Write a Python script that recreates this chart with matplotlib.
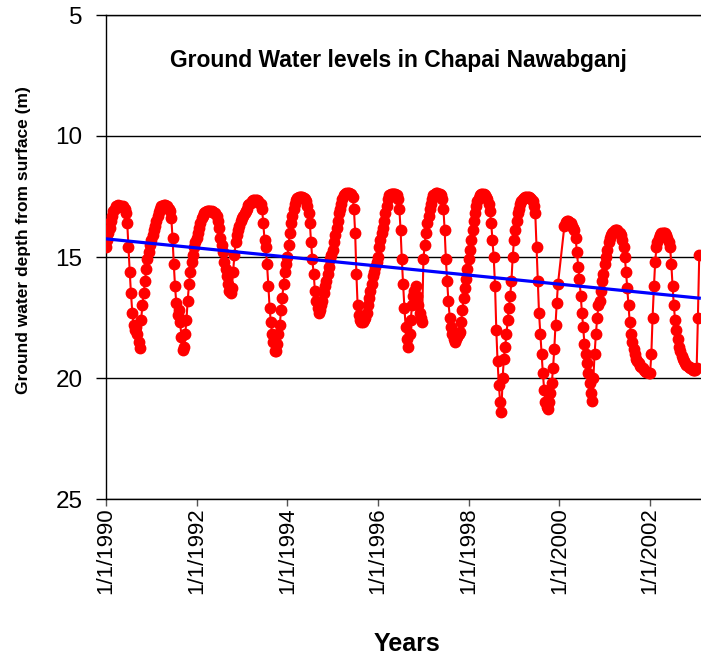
import numpy as np
import pandas as pd
import matplotlib
matplotlib.use("Agg")
import matplotlib.pyplot as plt
import matplotlib.dates as mdates
from matplotlib.ticker import FixedLocator, FixedFormatter

plt.rcParams['font.family'] = ['Liberation Sans', 'DejaVu Sans']

# ground water depth below surface (m), read on the 1st, 11th and 21st of each month
depth_1990 = [14.6, 14.3, 14.0, 13.8, 13.5, 13.3, 13.1, 13.0, 12.9, 12.9, 12.85, 12.9,
              12.9, 12.95, 12.9, 13.0, 13.2, 13.6, 14.6, 15.6, 16.5, 17.3, 17.8, 18.0,
              17.9, 18.2, 18.5, 18.75, 17.6, 17.0, 16.5, 16.0, 15.5, 15.1, 14.8, 14.5]
depth_1991 = [14.3, 14.1, 13.9, 13.7, 13.5, 13.3, 13.15, 13.0, 12.9, 12.9, 12.85, 12.85,
              12.9, 12.9, 13.0, 13.1, 13.4, 14.2, 15.3, 16.2, 16.9, 17.4, 17.2, 17.7,
              18.3, 18.85, 18.7, 18.2, 17.6, 16.8, 16.1, 15.6, 15.2, 14.9, 14.6, 14.4]
depth_1992 = [14.2, 14.0, 13.8, 13.6, 13.4, 13.3, 13.2, 13.15, 13.1, 13.1, 13.1, 13.1,
              13.1, 13.15, 13.2, 13.2, 13.3, 13.5, 13.8, 14.2, 14.5, 14.8, 15.2, 15.5,
              15.8, 16.1, 16.4, 16.5, 16.3, 15.6, 14.9, 14.4, 14.1, 13.9, 13.7, 13.5]
depth_1993 = [13.4, 13.3, 13.2, 13.1, 13.0, 12.85, 12.8, 12.75, 12.7, 12.65, 12.65, 12.65,
              12.65, 12.7, 12.75, 12.8, 13.0, 13.6, 14.3, 14.6, 15.3, 16.2, 17.1, 17.7,
              18.2, 18.5, 18.9, 18.9, 18.6, 18.2, 17.8, 17.2, 16.7, 16.1, 15.6, 15.3]
depth_1994 = [15.0, 14.5, 14.0, 13.6, 13.3, 13.0, 12.8, 12.65, 12.55, 12.5, 12.5, 12.5,
              12.5, 12.55, 12.6, 12.7, 12.9, 13.2, 13.6, 14.4, 15.1, 15.7, 16.4, 16.8,
              17.1, 17.3, 17.2, 17.0, 16.8, 16.5, 16.2, 16.0, 15.7, 15.4, 15.1, 14.9]
depth_1995 = [14.7, 14.4, 14.1, 13.8, 13.5, 13.2, 13.0, 12.8, 12.6, 12.45, 12.4, 12.35,
              12.35, 12.35, 12.4, 12.4, 12.5, 13.0, 14.0, 15.7, 17.0, 17.4, 17.6, 17.7,
              17.7, 17.6, 17.5, 17.3, 17.0, 16.7, 16.4, 16.1, 15.8, 15.6, 15.4, 15.2]
depth_1996 = [15.0, 14.6, 14.3, 14.0, 13.8, 13.5, 13.2, 12.9, 12.6, 12.45, 12.4, 12.4,
              12.4, 12.4, 12.4, 12.45, 12.6, 13.0, 13.9, 15.1, 16.1, 17.1, 17.9, 18.4,
              18.7, 18.2, 17.6, 17.0, 16.6, 16.4, 16.2, 16.6, 17.0, 17.3, 17.5, 17.7]
depth_1997 = [15.1, 14.5, 14.0, 13.6, 13.3, 13.0, 12.8, 12.6, 12.45, 12.4, 12.35, 12.35,
              12.4, 12.4, 12.45, 12.6, 13.0, 13.9, 15.1, 16.0, 16.8, 17.5, 17.9, 18.2,
              18.4, 18.5, 18.4, 18.3, 18.2, 18.1, 17.7, 17.2, 16.7, 16.3, 15.9, 15.5]
depth_1998 = [15.1, 14.7, 14.3, 13.9, 13.5, 13.2, 12.9, 12.7, 12.55, 12.45, 12.4, 12.4,
              12.4, 12.45, 12.5, 12.6, 12.8, 13.1, 13.6, 14.3, 15.0, 16.2, 18.0, 19.3,
              20.3, 21.0, 21.4, 20.0, 19.2, 18.7, 18.2, 17.6, 17.1, 16.6, 16.0, 15.0]
depth_1999 = [14.3, 13.9, 13.5, 13.2, 13.0, 12.8, 12.7, 12.6, 12.55, 12.5, 12.5, 12.5,
              12.5, 12.55, 12.6, 12.7, 12.9, 13.2, 14.6, 16.0, 17.3, 18.2, 19.0, 19.8,
              20.5, 21.0, 21.2, 21.3, 21.0, 20.6, 20.2, 19.6, 18.8, 17.8, 16.9, 16.1]
depth_2000 = [np.nan, np.nan, np.nan, np.nan, 13.7, 13.55, 13.5, 13.5, 13.55, 13.6, 13.7, 13.8,
              13.9, 14.2, 14.8, 15.4, 15.9, 16.6, 17.3, 17.9, 18.6, 19.0, 19.4, 19.8,
              20.2, 20.6, 20.95, 20.0, 19.0, 18.2, 17.5, 17.0, 16.8, 16.4, 16.0, 15.7]
depth_2001 = [15.3, 15.0, 14.7, 14.4, 14.2, 14.1, 14.0, 13.95, 13.9, 13.9, 13.9, 13.95,
              14.0, 14.1, 14.3, 14.6, 15.0, 15.6, 16.3, 17.0, 17.7, 18.2, 18.5, 18.8,
              19.0, 19.2, 19.3, 19.4, 19.5, 19.55, 19.6, 19.65, 19.7, 19.75, 19.75, 19.8]
depth_2002 = [19.8, 19.0, 17.5, 16.2, 15.2, 14.6, 14.4, 14.2, 14.1, 14.0, 14.0, 14.0,
              14.0, 14.1, 14.2, 14.4, 14.6, 15.3, 16.2, 17.0, 17.6, 18.0, 18.4, 18.7,
              18.9, 19.1, 19.2, 19.3, 19.4, 19.45, 19.5, 19.55, 19.6, 19.6, 19.65, 19.65]
depth_2003 = [19.65, 19.6, 17.5, 14.9]

# linear trend of depth, at the first and last reading
trend_depth = [14.25, 16.7]

tick_years = [1990, 1992, 1994, 1996, 1998, 2000, 2002]
y_ticks = [5, 10, 15, 20, 25]

depth = np.array(depth_1990 + depth_1991 + depth_1992 + depth_1993 + depth_1994
                 + depth_1995 + depth_1996 + depth_1997 + depth_1998 + depth_1999
                 + depth_2000 + depth_2001 + depth_2002 + depth_2003, dtype=float)

months = pd.date_range("1990-01-01", "2003-12-01", freq="MS")
dates = pd.DatetimeIndex([m + pd.Timedelta(days=d) for m in months for d in (0, 10, 20)])
dates = dates[:len(depth)]

ok = ~np.isnan(depth)
dates, depth = dates[ok], depth[ok]

fig = plt.figure(figsize=(7.01, 6.55), dpi=100)
ax = fig.add_axes([106 / 701, 156 / 655, 595 / 701, 484 / 655])

ax.plot(dates, depth, color="#ff0000", lw=1.5, marker="o", ms=7.5,
        markeredgecolor="#ff0000", zorder=3)
ax.plot([dates[0], dates[-1]], trend_depth, color="#0000ff", lw=2.3, zorder=4)

ax.set_ylim(25, 5)
ax.set_xlim(pd.Timestamp("1990-01-01"), pd.Timestamp("2003-02-15"))

ax.yaxis.set_major_locator(FixedLocator(y_ticks))
ax.tick_params(axis="y", labelsize=17.5, length=7, width=1, direction="out", pad=10)

tick_dates = [pd.Timestamp(f"{y}-01-01") for y in tick_years]
ax.xaxis.set_major_locator(FixedLocator(mdates.date2num(tick_dates)))
ax.xaxis.set_major_formatter(FixedFormatter([f"{d.month}/{d.day}/{d.year}" for d in tick_dates]))
ax.tick_params(axis="x", labelsize=16, length=5, width=1, direction="out",
               labelrotation=90, pad=1, color="#555555")

ax.yaxis.grid(True, color="black", lw=1)
ax.set_axisbelow(True)
ax.spines["right"].set_visible(False)
for s in ("left", "bottom", "top"):
    ax.spines[s].set_color("black")
    ax.spines[s].set_linewidth(1)

fig.text(398 / 701, 1 - 60 / 655, "Ground Water levels in Chapai Nawabganj",
         ha="center", va="center", fontsize=16.5, fontweight="bold")
fig.text(24 / 701, 1 - 240 / 655, "Ground water depth from surface (m)",
         ha="center", va="center", rotation=90, fontsize=12.5, fontweight="bold")
fig.text(407 / 701, 1 - 644 / 655, "Years", ha="center", va="center",
         fontsize=18, fontweight="bold")

fig.savefig("out.png", dpi=100)
